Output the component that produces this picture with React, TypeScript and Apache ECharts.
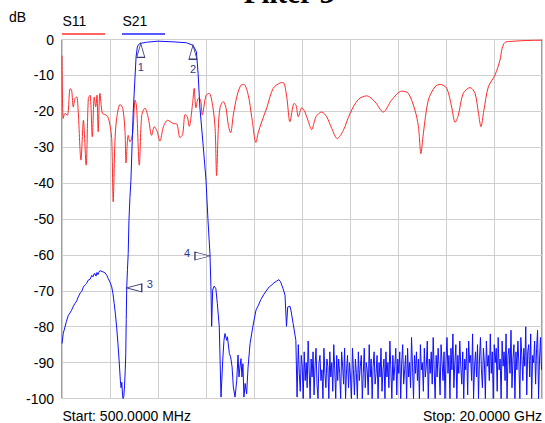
import { useEffect, useRef } from "react";
import * as echarts from "echarts";

const TITLE = "Filter 3";
const Y_UNIT = "dB";
const START_LABEL = "Start: 500.0000 MHz";
const STOP_LABEL = "Stop: 20.0000 GHz";
const F_MIN = 0.5;
const F_MAX = 20;

// S11 trace [GHz, dB]
const S11: [number, number][] = [
  [0.5, -4.5], [0.55, -22.0], [0.62, -20.6], [0.72, -21.1], [0.83, -13.7], [0.89, -14.1],
  [0.96, -18.8], [1.03, -16.4], [1.1, -16.0], [1.16, -20.2], [1.27, -33.6], [1.37, -22.5],
  [1.48, -35.0], [1.57, -16.4], [1.64, -15.5], [1.73, -27.1], [1.81, -16.0], [1.87, -18.8],
  [1.92, -15.5], [1.97, -25.7], [2.04, -15.0], [2.14, -20.6], [2.25, -20.9], [2.36, -21.5],
  [2.45, -23.9], [2.52, -27.6], [2.58, -45.2], [2.65, -28.5], [2.72, -22.0], [2.86, -18.1],
  [2.97, -19.2], [3.06, -25.7], [3.1, -34.4], [3.19, -26.7], [3.26, -28.5], [3.37, -26.2],
  [3.47, -16.9], [3.53, -18.8], [3.64, -35.0], [3.74, -21.1], [3.87, -19.1], [4.01, -22.0],
  [4.14, -26.7], [4.25, -24.3], [4.35, -25.3], [4.48, -28.3], [4.62, -24.3], [4.79, -22.5],
  [5.02, -23.4], [5.16, -23.5], [5.29, -27.3], [5.4, -26.5], [5.5, -20.9], [5.59, -21.5],
  [5.67, -24.2], [5.81, -17.5], [5.87, -13.6], [5.94, -19.0], [6.04, -16.4], [6.13, -16.8],
  [6.2, -21.0], [6.35, -15.6], [6.48, -15.0], [6.62, -18.4], [6.72, -24.8], [6.78, -37.9],
  [6.85, -24.8], [6.92, -19.0], [7.05, -17.3], [7.16, -19.0], [7.26, -24.0], [7.35, -26.0],
  [7.46, -21.0], [7.6, -16.0], [7.76, -12.8], [7.89, -12.5], [8.07, -15.6], [8.21, -21.7],
  [8.38, -28.7], [8.47, -26.0], [8.61, -23.0], [8.82, -19.0], [9.08, -13.6], [9.36, -12.1],
  [9.49, -12.0], [9.63, -16.0], [9.76, -22.9], [9.93, -17.8], [10.01, -18.3], [10.1, -21.5],
  [10.24, -19.0], [10.37, -20.2], [10.51, -22.9], [10.64, -25.1], [10.82, -21.5], [11.05, -20.2],
  [11.25, -21.5], [11.46, -24.8], [11.68, -27.6], [11.93, -25.3], [12.2, -20.6], [12.54, -16.7],
  [12.88, -15.7], [13.22, -17.4], [13.55, -20.2], [13.89, -16.9], [14.3, -14.4], [14.57, -15.0],
  [14.84, -19.7], [14.98, -24.3], [15.08, -31.8], [15.18, -26.2], [15.38, -16.9], [15.65, -13.2],
  [15.86, -12.5], [16.13, -13.6], [16.33, -18.8], [16.47, -23.1], [16.6, -21.1], [16.8, -15.0],
  [17.08, -13.4], [17.28, -15.0], [17.42, -20.6], [17.52, -24.3], [17.64, -19.7], [17.82, -13.2],
  [18.09, -9.9], [18.29, -5.8], [18.38, -2.5], [18.5, -0.8], [18.82, -0.5], [19.31, -0.3],
  [20.0, -0.2],
];

// S21 trace [GHz, dB], up to the noise floor
const S21_MAIN: [number, number][] = [
  [0.5, -84.7], [0.55, -81.9], [0.62, -80.1], [0.68, -78.5], [0.76, -76.8], [0.82, -76.2],
  [0.89, -75.4], [0.96, -74.3], [1.03, -73.5], [1.1, -72.8], [1.16, -71.7], [1.24, -70.6],
  [1.3, -70.2], [1.37, -68.9], [1.45, -68.3], [1.5, -67.9], [1.57, -67.0], [1.64, -66.8],
  [1.71, -65.7], [1.76, -66.1], [1.8, -65.3], [1.84, -65.2], [1.88, -65.9], [1.92, -64.9],
  [1.96, -65.5], [2.0, -64.8], [2.04, -64.4], [2.08, -64.5], [2.16, -64.7], [2.25, -65.0],
  [2.32, -65.7], [2.38, -66.6], [2.45, -67.6], [2.52, -68.9], [2.57, -70.8], [2.62, -73.5],
  [2.67, -76.5], [2.72, -80.1], [2.77, -84.5], [2.82, -89.3], [2.87, -94.9], [2.9, -97.0],
  [2.93, -95.5], [2.96, -99.0], [2.98, -100], [3.01, -99.5], [3.04, -96.5], [3.07, -92.0],
  [3.09, -87.5], [3.11, -78.0], [3.13, -69.0], [3.16, -64.0], [3.19, -59.6], [3.22, -50.3],
  [3.26, -44.0], [3.3, -39.2], [3.39, -20.6], [3.46, -11.3], [3.51, -4.8], [3.56, -2.1],
  [3.6, -1.5], [3.67, -1.1], [3.94, -0.75], [4.4, -0.47], [5.01, -0.65], [5.55, -0.9],
  [5.82, -1.6], [5.96, -3.4], [6.03, -9.5], [6.1, -18.8], [6.24, -29.9], [6.35, -39.2],
  [6.43, -50.3], [6.51, -59.6], [6.55, -68.9], [6.58, -79.9], [6.62, -69.8], [6.68, -68.7],
  [6.75, -69.4], [6.81, -73.5], [6.89, -80.1], [6.96, -99.6], [7.03, -89.3], [7.08, -83.8],
  [7.12, -81.9], [7.19, -83.8], [7.22, -82.8], [7.3, -87.5], [7.35, -88.4], [7.41, -91.2],
  [7.46, -96.8], [7.53, -99.6], [7.6, -94.9], [7.65, -87.9], [7.69, -94.0], [7.73, -91.2],
  [7.77, -88.9], [7.81, -94.0], [7.85, -90.3], [7.89, -99.6], [7.94, -95.8], [8.0, -98.7],
  [8.06, -91.2], [8.14, -84.7], [8.25, -80.1], [8.38, -75.4], [8.48, -74.0], [8.58, -72.4],
  [8.71, -70.9], [8.82, -69.8], [8.92, -68.9], [9.02, -68.4], [9.11, -67.8], [9.22, -67.3],
  [9.31, -66.9], [9.38, -67.5], [9.48, -69.4], [9.56, -71.2], [9.62, -79.9], [9.67, -74.5],
  [9.76, -74.3], [9.8, -75.4], [9.89, -79.1], [10.0, -83.8], [10.05, -99.6],
];

// S21 noise floor: sweep points from 10.1 GHz every 0.04 GHz
const S21_TAIL_START = 10.1;
const S21_TAIL_STEP = 0.04;
const S21_TAIL: number[] = [
  -85, -93, -98, -88, -91, -100, -87, -95, -90, -97,
  -84, -92, -100, -89, -94, -87, -99, -91, -86, -96,
  -100, -90, -88, -95, -92, -100, -86, -93, -97, -89,
  -91, -100, -87, -94, -90, -98, -85, -92, -100, -88,
  -95, -89, -93, -100, -87, -91, -96, -86, -100, -92,
  -88, -97, -90, -94, -100, -86, -92, -99, -89, -93,
  -100, -87, -95, -91, -88, -100, -93, -86, -97, -90,
  -92, -99, -85, -94, -89, -100, -91, -87, -96, -93,
  -88, -100, -90, -94, -86, -98, -92, -89, -100, -87,
  -94, -90, -97, -84, -92, -100, -88, -95, -91, -86,
  -99, -89, -93, -87, -100, -90, -85, -96, -92, -88,
  -100, -86, -94, -90, -97, -83, -91, -100, -88, -93,
  -87, -95, -89, -100, -85, -92, -90, -98, -86, -94,
  -91, -84, -100, -89, -93, -87, -96, -83, -92, -100,
  -88, -94, -86, -91, -99, -85, -90, -95, -87, -100,
  -89, -83, -93, -88, -100, -86, -92, -82, -97, -90,
  -85, -100, -88, -93, -84, -91, -96, -87, -100, -89,
  -92, -86, -99, -84, -90, -88, -95, -82, -100, -91,
  -87, -94, -85, -100, -89, -83, -92, -97, -86, -90,
  -100, -84, -91, -88, -95, -82, -93, -87, -100, -85,
  -90, -86, -98, -83, -92, -89, -100, -84, -91, -87,
  -95, -82, -100, -88, -86, -93, -81, -97, -89, -85,
  -100, -87, -92, -84, -90, -100, -83, -88, -95, -86,
  -91, -80, -99, -87, -85, -94, -82, -100, -88, -90,
  -84, -96, -86, -81, -100, -89, -83, -92,
];

const MARKER_NAMES = ["1", "2", "3", "4"];
const MARKER_FREQ = [3.7, 5.82, 3.13, 6.51];
const MARKER_DB = [-1.1, -1.6, -69.2, -60.3];
const MARKER_DIR = ["up", "up", "left", "right"];

const FONT = "Arial, 'Liberation Sans', sans-serif";

export default function App() {
  const ref = useRef<HTMLDivElement>(null);

  useEffect(() => {
    if (!ref.current) return;
    const chart = echarts.init(ref.current, null, { renderer: "svg" });

    const s21: [number, number][] = S21_MAIN.slice();
    S21_TAIL.forEach((v, i) => {
      s21.push([+(S21_TAIL_START + i * S21_TAIL_STEP).toFixed(3), v]);
    });

    const markData: any[] = [];
    MARKER_NAMES.forEach((name, i) => {
      const dir = MARKER_DIR[i];
      const coord = [MARKER_FREQ[i], MARKER_DB[i]];
      let rot = 0;
      let off: number[] = [0, 7];
      let lab: number[] = [0, 23.5];
      if (dir === "left") {
        rot = 90;
        off = [7.5, 0];
        lab = [23, -3.5];
      } else if (dir === "right") {
        rot = -90;
        off = [-7.5, 0];
        lab = [-23, -2.5];
      }
      markData.push({
        name: "m" + name,
        coord,
        symbol: "triangle",
        symbolSize: dir === "up" ? [8, 14] : [8, 15],
        symbolRotate: rot,
        symbolOffset: off,
        itemStyle: { color: "rgba(255,255,255,0)", borderColor: "#3a3a78", borderWidth: 1 },
        label: { show: false },
      });
      markData.push({
        name: "l" + name,
        coord,
        symbol: "circle",
        symbolSize: 1,
        itemStyle: { color: "rgba(0,0,0,0)" },
        label: {
          show: true,
          formatter: name,
          position: "inside",
          offset: lab,
          fontSize: 11,
          fontFamily: FONT,
          color: "#2c3c8c",
        },
      });
    });

    chart.setOption({
      animation: false,
      backgroundColor: "#ffffff",
      textStyle: { fontFamily: FONT },
      grid: {
        left: 62,
        top: 39.5,
        width: 480,
        height: 359,
        show: true,
        borderColor: "#404040",
        borderWidth: 1,
        backgroundColor: "#ffffff",
      },
      xAxis: [
        {
          type: "value",
          min: F_MIN,
          max: F_MAX,
          axisLine: { show: false },
          axisTick: { show: false },
          axisLabel: { show: false },
          splitLine: { show: false },
        },
        {
          type: "value",
          min: 0,
          max: 10,
          interval: 1,
          axisLine: { show: false },
          axisTick: { show: false },
          axisLabel: { show: false },
          splitLine: { show: true, lineStyle: { color: "#cfcfcf", width: 1 } },
        },
      ],
      yAxis: {
        type: "value",
        min: -100,
        max: 0,
        interval: 10,
        axisLine: { show: false },
        axisTick: { show: false },
        axisLabel: { fontSize: 14, color: "#000", fontFamily: FONT, margin: 8 },
        splitLine: { show: true, lineStyle: { color: "#cfcfcf", width: 1 } },
      },
      series: [
        {
          name: "S11",
          type: "line",
          xAxisIndex: 0,
          data: S11,
          showSymbol: false,
          smooth: 0.3,
          lineStyle: { color: "#ff2a2a", width: 1 },
          itemStyle: { color: "#ff2a2a" },
        },
        {
          name: "S21",
          type: "line",
          xAxisIndex: 0,
          data: s21,
          showSymbol: false,
          lineStyle: { color: "#1010ff", width: 1 },
          itemStyle: { color: "#1010ff" },
          markPoint: { silent: true, data: markData },
        },
      ],
      graphic: [
        {
          type: "text",
          x: 289,
          y: -7,
          style: {
            text: TITLE,
            fontSize: 29,
            fontWeight: "bold",
            fontFamily: "'Liberation Serif', 'Times New Roman', serif",
            fill: "#000",
            align: "center",
            verticalAlign: "middle",
          },
        },
        {
          type: "text",
          x: 9,
          y: 16.5,
          style: { text: Y_UNIT, fontSize: 14, fontFamily: FONT, fill: "#000", align: "left", verticalAlign: "middle" },
        },
        {
          type: "text",
          x: 62.5,
          y: 21.2,
          style: { text: "S11", fontSize: 14, fontFamily: FONT, fill: "#000", align: "left", verticalAlign: "middle" },
        },
        {
          type: "line",
          shape: { x1: 62, y1: 34, x2: 105, y2: 34 },
          style: { stroke: "#ff3030", lineWidth: 1.5 },
        },
        {
          type: "text",
          x: 122.5,
          y: 21.2,
          style: { text: "S21", fontSize: 14, fontFamily: FONT, fill: "#000", align: "left", verticalAlign: "middle" },
        },
        {
          type: "line",
          shape: { x1: 122, y1: 34, x2: 165, y2: 34 },
          style: { stroke: "#2020ff", lineWidth: 1.5 },
        },
        {
          type: "text",
          x: 62.5,
          y: 416,
          style: { text: START_LABEL, fontSize: 14, fontFamily: FONT, fill: "#000", align: "left", verticalAlign: "middle" },
        },
        {
          type: "text",
          x: 542,
          y: 416,
          style: { text: STOP_LABEL, fontSize: 14, fontFamily: FONT, fill: "#000", align: "right", verticalAlign: "middle" },
        },
      ],
    });

    return () => chart.dispose();
  }, []);

  return (
    <div
      ref={ref}
      style={{ position: "fixed", left: 0, top: 0, width: 545, height: 423, background: "#fff" }}
    />
  );
}
